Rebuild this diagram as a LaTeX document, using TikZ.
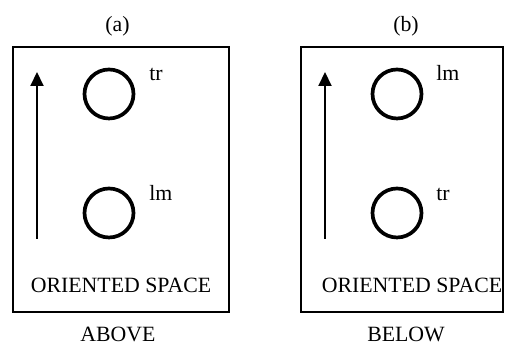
\documentclass[tikz,border=0pt]{standalone}
\usepackage{fontspec}
\setmainfont{Liberation Serif}
\usetikzlibrary{arrows.meta}
\tikzset{
  frame/.style={draw=black,line width=1.1pt},
  ring/.style={circle,draw=black,line width=2.1pt,minimum size=0.98cm,inner sep=0pt},
  lbl/.style={font=\fontsize{12.4}{14}\selectfont,inner sep=0pt},
  upline/.style={line width=1.1pt,-{Triangle[length=0.28cm,width=0.26cm]}}
}
\begin{document}
\begin{tikzpicture}
\useasboundingbox (0,0) rectangle (10.1,6.94);
% (a) above
\draw[frame] (0.26,0.70) rectangle (4.58,6.0);
\node[lbl,anchor=base] (capa) at (2.35,6.3) {(a)};
\node[ring] (ringa1) at (2.18,5.06) {};
\node[ring] (ringa2) at (2.18,2.68) {};
\node[lbl,anchor=base west] (tra) at (2.98,5.32) {tr};
\node[lbl,anchor=base west] (lma) at (2.98,2.92) {lm};
\coordinate (arra0) at (0.74,2.16);
\coordinate (arra1) at (0.74,5.5);
\draw[upline] (arra0) -- (arra1);
\node[lbl,anchor=base] (spacea) at (2.42,1.08) {ORIENTED SPACE};
\node[lbl,anchor=base] (above) at (2.36,0.1) {ABOVE};
% (b) below
\draw[frame] (6.02,0.70) rectangle (10.06,6.0);
\node[lbl,anchor=base] (capb) at (8.12,6.3) {(b)};
\node[ring] (ringb1) at (7.94,5.06) {};
\node[ring] (ringb2) at (7.94,2.68) {};
\node[lbl,anchor=base west] (lmb) at (8.72,5.32) {lm};
\node[lbl,anchor=base west] (trb) at (8.72,2.92) {tr};
\coordinate (arrb0) at (6.5,2.16);
\coordinate (arrb1) at (6.5,5.5);
\draw[upline] (arrb0) -- (arrb1);
\node[lbl,anchor=base] (spaceb) at (8.24,1.08) {ORIENTED SPACE};
\node[lbl,anchor=base] (below) at (8.12,0.1) {BELOW};
\end{tikzpicture}
\end{document}
